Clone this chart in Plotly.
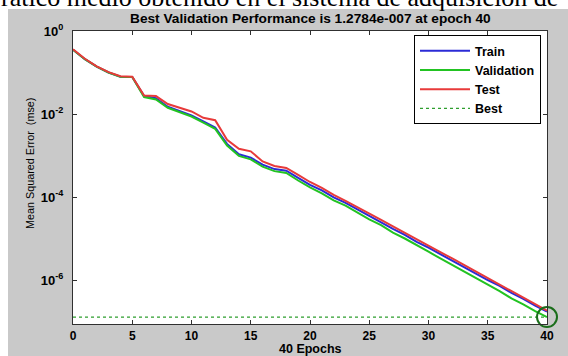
import plotly.graph_objects as go

epochs = list(range(0, 41))

train_mse = [3.55e-1, 2.09e-1, 1.38e-1, 1.00e-1, 7.9e-2, 7.8e-2, 2.7e-2, 2.4e-2, 1.5e-2, 1.2e-2,
             9.3e-3, 6.6e-3, 4.7e-3, 1.9e-3, 1.07e-3, 8.9e-4, 6.0e-4, 4.7e-4, 4.3e-4, 2.9e-4,
             1.95e-4, 1.45e-4, 9.8e-5, 7.2e-5, 5.0e-5, 3.5e-5, 2.5e-5, 1.7e-5, 1.23e-5, 8.3e-6,
             6.0e-6, 4.2e-6, 2.95e-6, 2.0e-6, 1.45e-6, 1.0e-6, 7.2e-7, 4.9e-7, 3.5e-7, 2.4e-7,
             1.74e-7]
val_mse = [3.55e-1, 2.09e-1, 1.38e-1, 1.00e-1, 7.9e-2, 7.8e-2, 2.57e-2, 2.24e-2, 1.41e-2, 1.12e-2,
           8.7e-3, 6.2e-3, 4.4e-3, 1.74e-3, 9.8e-4, 8.1e-4, 5.4e-4, 4.2e-4, 3.8e-4, 2.5e-4,
           1.7e-4, 1.23e-4, 8.3e-5, 6.2e-5, 4.2e-5, 2.9e-5, 2.1e-5, 1.38e-5, 1.0e-5, 6.8e-6,
           4.8e-6, 3.3e-6, 2.3e-6, 1.58e-6, 1.1e-6, 7.6e-7, 5.4e-7, 3.6e-7, 2.6e-7, 1.78e-7,
           1.2784e-7]
test_mse = [3.63e-1, 2.14e-1, 1.41e-1, 1.02e-1, 8.1e-2, 7.9e-2, 2.8e-2, 2.7e-2, 1.74e-2, 1.41e-2,
            1.15e-2, 8.1e-3, 7.1e-3, 2.4e-3, 1.45e-3, 1.26e-3, 7.2e-4, 5.6e-4, 5.0e-4, 3.4e-4,
            2.3e-4, 1.66e-4, 1.12e-4, 8.1e-5, 5.6e-5, 3.9e-5, 2.8e-5, 1.95e-5, 1.38e-5, 9.5e-6,
            6.8e-6, 4.7e-6, 3.3e-6, 2.3e-6, 1.62e-6, 1.12e-6, 7.9e-7, 5.5e-7, 3.9e-7, 2.6e-7,
            1.82e-7]

best_epoch = 40
best_perf = 1.2784e-7

x_tickvals = [0, 5, 10, 15, 20, 25, 30, 35, 40]
y_tickvals = [1, 1e-2, 1e-4, 1e-6]
y_ticktext = ["10<sup>0</sup>", "10<sup>-2</sup>", "10<sup>-4</sup>", "10<sup>-6</sup>"]

title_text = "Best Validation Performance is 1.2784e-007 at epoch 40"
x_title = "40 Epochs"
y_title = "Mean Squared Error  (mse)"
doc_text = "ratico medio obtenido en el sistema de adquisición de"

W, H = 568, 356
L, R, T, B = 73, 21, 31, 32
pw, ph = W - L - R, H - T - B


def px2x(px):
    return (px - L) / pw


def py2y(py):
    return (H - B - py) / ph


SANS = "Liberation Sans, Arial, sans-serif"

fig = go.Figure()
fig.add_trace(go.Scatter(x=epochs, y=train_mse, mode="lines", name="Train",
                         line=dict(color="#2b2bd6", width=2)))
fig.add_trace(go.Scatter(x=epochs, y=val_mse, mode="lines", name="Validation",
                         line=dict(color="#22c322", width=2)))
fig.add_trace(go.Scatter(x=epochs, y=test_mse, mode="lines", name="Test",
                         line=dict(color="#e83a3a", width=2)))
fig.add_trace(go.Scatter(x=[epochs[0], epochs[-1]], y=[best_perf, best_perf], mode="lines",
                         name="Best", line=dict(color="#2e9e2e", width=1.4, dash="3px,3px")))
fig.add_trace(go.Scatter(x=[best_epoch], y=[best_perf], mode="markers", showlegend=False,
                         cliponaxis=False,
                         marker=dict(symbol="circle-open", size=20, color="#1b6e1b",
                                     line=dict(width=2, color="#1b6e1b"))))

axis_common = dict(showline=True, linecolor="#303030", linewidth=1.2, mirror="ticks",
                   ticks="inside", ticklen=4, tickcolor="#303030", showgrid=False,
                   zeroline=False)

fig.update_xaxes(range=[0, 40], tickvals=x_tickvals,
                 tickfont=dict(family=SANS, size=12, color="black", weight="bold"),
                 **axis_common)
fig.update_yaxes(type="log", range=[-7.06, 0], tickvals=y_tickvals, ticktext=y_ticktext,
                 tickfont=dict(family=SANS, size=13, color="black", weight="bold"),
                 ticklabelstandoff=6, **axis_common)

fig.update_layout(
    width=W, height=H,
    margin=dict(l=L, r=R, t=T, b=B, pad=0),
    paper_bgcolor="#c9c9c9",
    plot_bgcolor="white",
    showlegend=True,
    legend=dict(x=px2x(541), y=py2y(35), xanchor="right", yanchor="top",
                bgcolor="white", bordercolor="black", borderwidth=1,
                font=dict(family=SANS, size=12.5, color="black", weight="bold"),
                itemwidth=50, tracegroupgap=0),
    shapes=[
        dict(type="rect", xref="paper", yref="paper", x0=-0.3, x1=1.3,
             y0=py2y(9), y1=py2y(-20), fillcolor="white", line=dict(width=0), layer="below"),
        dict(type="rect", xref="paper", yref="paper", x0=-0.3, x1=px2x(8),
             y0=py2y(380), y1=py2y(-20), fillcolor="white", line=dict(width=0), layer="below"),
    ],
    annotations=[
        dict(text=title_text, xref="paper", yref="paper", x=0.5, y=py2y(18),
             xanchor="center", yanchor="middle", showarrow=False,
             font=dict(family=SANS, size=13.7, color="black", weight="bold")),
        dict(text=x_title, xref="paper", yref="paper", x=0.5, y=py2y(349),
             xanchor="center", yanchor="middle", showarrow=False,
             font=dict(family=SANS, size=12.5, color="black", weight="bold")),
        dict(text=y_title, xref="paper", yref="paper", x=px2x(30), y=py2y(164),
             xanchor="center", yanchor="middle", showarrow=False, textangle=-90,
             font=dict(family=SANS, size=10.8, color="black")),
        dict(text=doc_text, xref="paper", yref="paper", x=px2x(-1), y=py2y(14),
             xanchor="left", yanchor="bottom", showarrow=False,
             font=dict(family="Liberation Serif, Times New Roman, serif", size=26, color="black")),
    ],
)

fig.write_html("out.html", config={"displayModeBar": False},
               post_script="document.body.style.margin='0';document.body.style.padding='0';")
